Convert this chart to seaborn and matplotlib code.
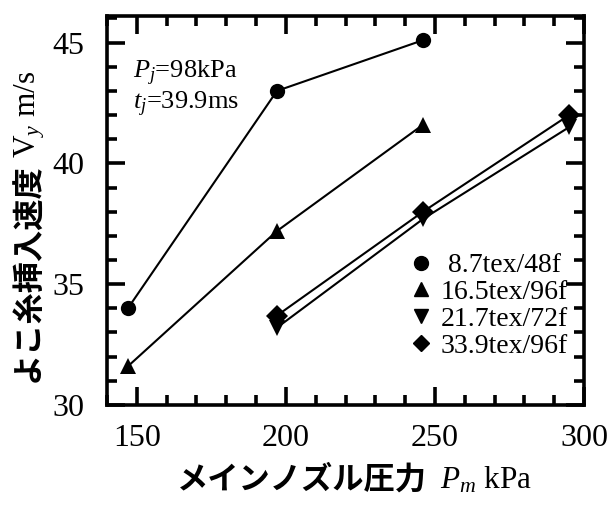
import pandas as pd
import matplotlib.pyplot as plt
import seaborn as sns
from matplotlib.lines import Line2D
from matplotlib.ticker import MultipleLocator

# data
labels = [" 8.7tex/48f", "16.5tex/96f", "21.7tex/72f", "33.9tex/96f"]
markers = ["o", "^", "v", "D"]
pm_a = [147, 197, 246]
pm_b = [197, 246, 295]
vy_87 = [34.0, 43.0, 45.1]
vy_165 = [31.6, 37.2, 41.6]
vy_217 = [33.2, 37.7, 41.5]
vy_339 = [33.7, 38.0, 42.0]

rows = []
for lab, xs, ys in zip(labels, [pm_a, pm_a, pm_b, pm_b], [vy_87, vy_165, vy_217, vy_339]):
    for x, y in zip(xs, ys):
        rows.append({"Pm": x, "Vy": y, "yarn": lab})
df = pd.DataFrame(rows)

sns.set_style("ticks")
plt.rcParams["font.family"] = ["Liberation Serif", "Noto Sans CJK JP"]
plt.rcParams["mathtext.fontset"] = "custom"
plt.rcParams["mathtext.rm"] = "Liberation Serif"
plt.rcParams["mathtext.it"] = "Liberation Serif:italic"
plt.rcParams["text.color"] = "black"
plt.rcParams["xtick.color"] = "black"
plt.rcParams["ytick.color"] = "black"
plt.rcParams["axes.edgecolor"] = "black"

fig = plt.figure(figsize=(6.09, 5.08), dpi=100)
ax = fig.add_axes([0.1757, 0.2028, 0.7833, 0.7657])

sns.lineplot(data=df, x="Pm", y="Vy", hue="yarn", style="yarn",
             palette=["black"] * 4, markers=dict(zip(labels, markers)),
             dashes=False, markersize=11, linewidth=1.5, markeredgewidth=0,
             legend=False, ax=ax)
for ln in ax.get_lines():
    if ln.get_marker() == "D":
        ln.set_markersize(11.5)
    elif ln.get_marker() in ("^", "v"):
        ln.set_markersize(12)

ax.set_xlim(140, 300)
ax.set_ylim(30, 46.1)
ax.xaxis.set_major_locator(MultipleLocator(50))
ax.xaxis.set_minor_locator(MultipleLocator(10))
ax.yaxis.set_major_locator(MultipleLocator(5))
ax.yaxis.set_minor_locator(MultipleLocator(1))
ax.tick_params(which="both", direction="in", top=True, right=True, width=2.6, labelsize=23)
ax.tick_params(which="major", length=13)
ax.tick_params(which="minor", length=7)
ax.tick_params(axis="x", which="major", pad=14)
ax.tick_params(axis="y", which="major", pad=16)
for s in ax.spines.values():
    s.set_linewidth(2.6)

ax.set_xlabel("")
ax.set_ylabel("")
fig.text(0.701, 0.055, "メインノズル圧力", fontsize=22.5, fontweight="bold",
         family="Noto Sans CJK JP", ha="right", va="center")
fig.text(0.722, 0.055, r"$P_m$ kPa", fontsize=22.5, ha="left", va="center")
fig.text(0.046, 0.248, "よこ糸挿入速度", fontsize=22.5, fontweight="bold",
         family="Noto Sans CJK JP", rotation=90, ha="center", va="bottom")
fig.text(0.049, 0.689, r"$\mathrm{V}_y$ m/s", fontsize=22.5, rotation=90,
         ha="center", va="bottom")

ax.text(0.055, 0.89, "$P_j$=98kPa\n$t_j$=39.9ms", transform=ax.transAxes,
        fontsize=19, va="top", ha="left", linespacing=1.1)

handles = [Line2D([], [], color="black", marker=m, linestyle="none",
                  markersize=(8.5 if m == "D" else 10)) for m in markers]
ax.legend(handles, labels, loc="lower right", bbox_to_anchor=(0.99, 0.09),
          frameon=False, fontsize=20, handletextpad=0.1, labelspacing=0.05,
          borderaxespad=0, handlelength=1.2)

fig.savefig("out.png", dpi=100)
